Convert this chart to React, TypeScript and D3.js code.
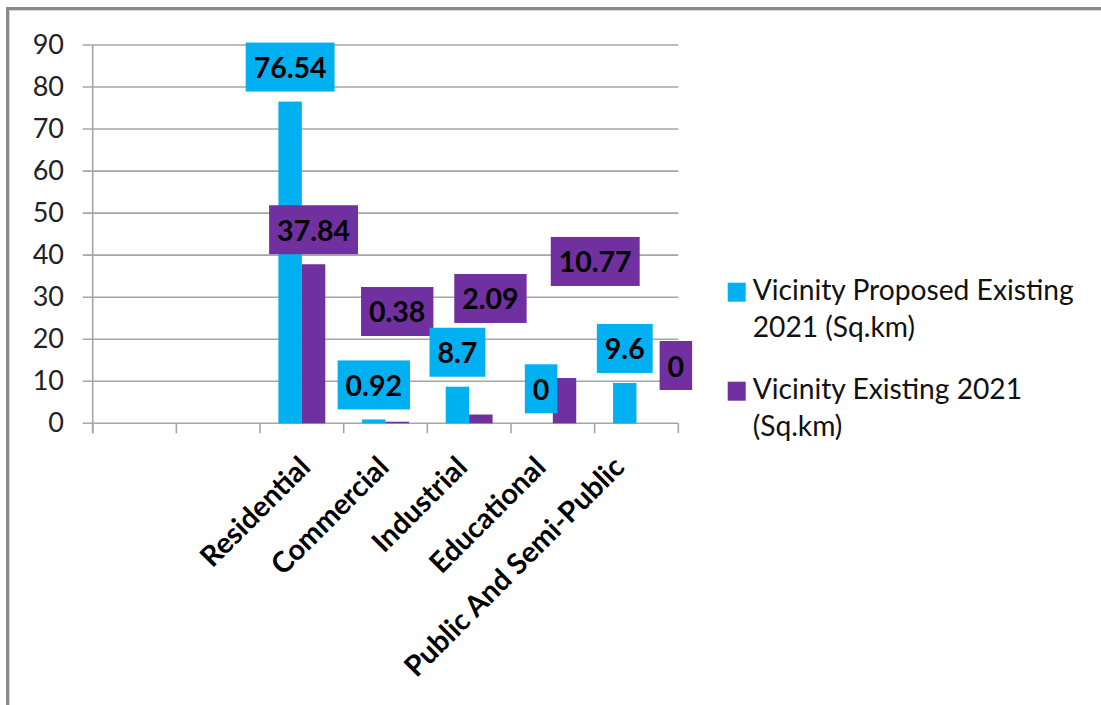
import React, { useEffect, useRef } from "react";
import * as d3 from "d3";

const categories = ["", "", "Residential", "Commercial", "Industrial", "Educational", "Public And Semi-Public"];
const proposed: (number | null)[] = [null, null, 76.54, 0.92, 8.7, 0, 9.6];
const existing: (number | null)[] = [null, null, 37.84, 0.38, 2.09, 10.77, 0];
const yTicks = [0, 10, 20, 30, 40, 50, 60, 70, 80, 90];
const seriesNames = [
  ["Vicinity Proposed Existing", "2021 (Sq.km)"],
  ["Vicinity Existing 2021", "(Sq.km)"],
];

// label placement (manually moved labels, in axis units / px nudges)
const existingLabelAt: (number | null)[] = [null, null, null, 26.6, 29.7, 38.5, 13.75];
const existingLabelDx = [0, 0, 0, 0, 9.6, 30.7, 27.7];

const BLUE = "#00B0F0";
const PURPLE = "#7030A0";
const W = 1101, H = 705;

export default function App() {
  const ref = useRef<SVGSVGElement>(null);
  useEffect(() => {
    const svg = d3.select(ref.current);
    svg.selectAll("*").remove();
    const x0 = 92.7, x1 = 678.3, yTop = 45, yBot = 423.3;
    const x = d3.scaleBand<number>().domain(categories.map((_, i) => i)).range([x0, x1]).padding(0);
    const y = d3.scaleLinear().domain([0, 90]).range([yBot, yTop]);
    const bw = x.bandwidth() * 0.28;

    // frame
    svg.append("rect").attr("x", 7.5).attr("y", 8.5).attr("width", W + 20).attr("height", H + 20)
      .attr("fill", "none").attr("stroke", "#8a8a8a").attr("stroke-width", 3);
    svg.append("rect").attr("x", 9.5).attr("y", 10.5).attr("width", W + 20).attr("height", H + 20)
      .attr("fill", "none").attr("stroke", "#d8d8d8").attr("stroke-width", 1);

    // gridlines
    const grid = "#a6a6a6";
    svg.append("g").selectAll("line").data(yTicks).join("line")
      .attr("x1", x0 - 10).attr("x2", x1).attr("y1", d => y(d)).attr("y2", d => y(d))
      .attr("stroke", grid).attr("stroke-width", 1.6);
    // y axis line
    svg.append("line").attr("x1", x0).attr("x2", x0).attr("y1", yTop).attr("y2", yBot + 10)
      .attr("stroke", grid).attr("stroke-width", 1.6);
    // x ticks
    const tickXs = categories.map((_, i) => x(i)!).concat([x1]);
    svg.append("g").selectAll("line").data(tickXs).join("line")
      .attr("x1", d => d).attr("x2", d => d).attr("y1", yBot).attr("y2", yBot + 10)
      .attr("stroke", grid).attr("stroke-width", 1.6);

    // y tick labels
    svg.append("g").selectAll("text").data(yTicks).join("text")
      .attr("x", 64).attr("y", d => y(d) + 8.5).attr("text-anchor", "end")
      .attr("font-family", "Lato, sans-serif").attr("font-size", 27).attr("fill", "#222")
      .text(d => String(d));

    // bars
    const bars = svg.append("g");
    categories.forEach((_, i) => {
      const c = x(i)! + x.bandwidth() / 2;
      const p = proposed[i], e = existing[i];
      if (p != null) bars.append("rect").attr("x", c - bw).attr("width", bw).attr("y", y(p)).attr("height", y(0) - y(p)).attr("fill", BLUE);
      if (e != null) bars.append("rect").attr("x", c).attr("width", bw).attr("y", y(e)).attr("height", y(0) - y(e)).attr("fill", PURPLE);
    });

    // data labels
    const labels = svg.append("g");
    const addLabel = (v: number, cx: number, cy: number, fill: string) => {
      const g = labels.append("g");
      const r = g.append("rect");
      const t = g.append("text").attr("x", cx).attr("y", cy + 11).attr("text-anchor", "middle")
        .attr("font-family", "Lato, sans-serif").attr("font-weight", "bold").attr("font-size", 28.5)
        .attr("fill", "#000").text(String(v));
      const tw = (t.node() as SVGTextElement).getComputedTextLength();
      const bwid = tw + 16, bh = 49;
      r.attr("x", cx - bwid / 2).attr("y", cy - bh / 2).attr("width", bwid).attr("height", bh).attr("fill", fill);
    };
    categories.forEach((_, i) => {
      const c = x(i)! + x.bandwidth() / 2;
      const p = proposed[i], e = existing[i];
      if (p != null) addLabel(p, c - bw / 2, y(p) - 10 - 24.5, BLUE);
      if (e != null) {
        const at = existingLabelAt[i];
        const cy = at != null ? y(at) : y(e) - 10 - 24.5;
        addLabel(e, c + bw / 2 + existingLabelDx[i], cy, PURPLE);
      }
    });

    // category labels
    const lx = d3.scalePoint<number>().domain(categories.map((_, i) => i)).range([155, 626]);
    svg.append("g").selectAll("text").data(categories.map((c, i) => ({ c, i })).filter(d => d.c)).join("text")
      .attr("transform", d => `translate(${lx(d.i)},469) rotate(-45)`)
      .attr("text-anchor", "end").attr("font-family", "Lato, sans-serif").attr("font-weight", "bold")
      .attr("font-size", 28.8).attr("fill", "#000").text(d => d.c);

    // legend
    const leg = svg.append("g");
    const legY = [282.7, 381.7];
    [BLUE, PURPLE].forEach((col, k) => {
      leg.append("rect").attr("x", 727.7).attr("y", legY[k]).attr("width", 18).attr("height", 19).attr("fill", col);
      seriesNames[k].forEach((line, j) => {
        leg.append("text").attr("x", 752.7).attr("y", legY[k] + 16.8 + j * 37.8)
          .attr("font-family", "Lato, sans-serif").attr("font-size", 28.2).attr("fill", "#111").text(line);
      });
    });
  }, []);
  return (
    <svg ref={ref} width={W} height={H} style={{ position: "absolute", left: 0, top: 0, background: "#fff" }} />
  );
}
